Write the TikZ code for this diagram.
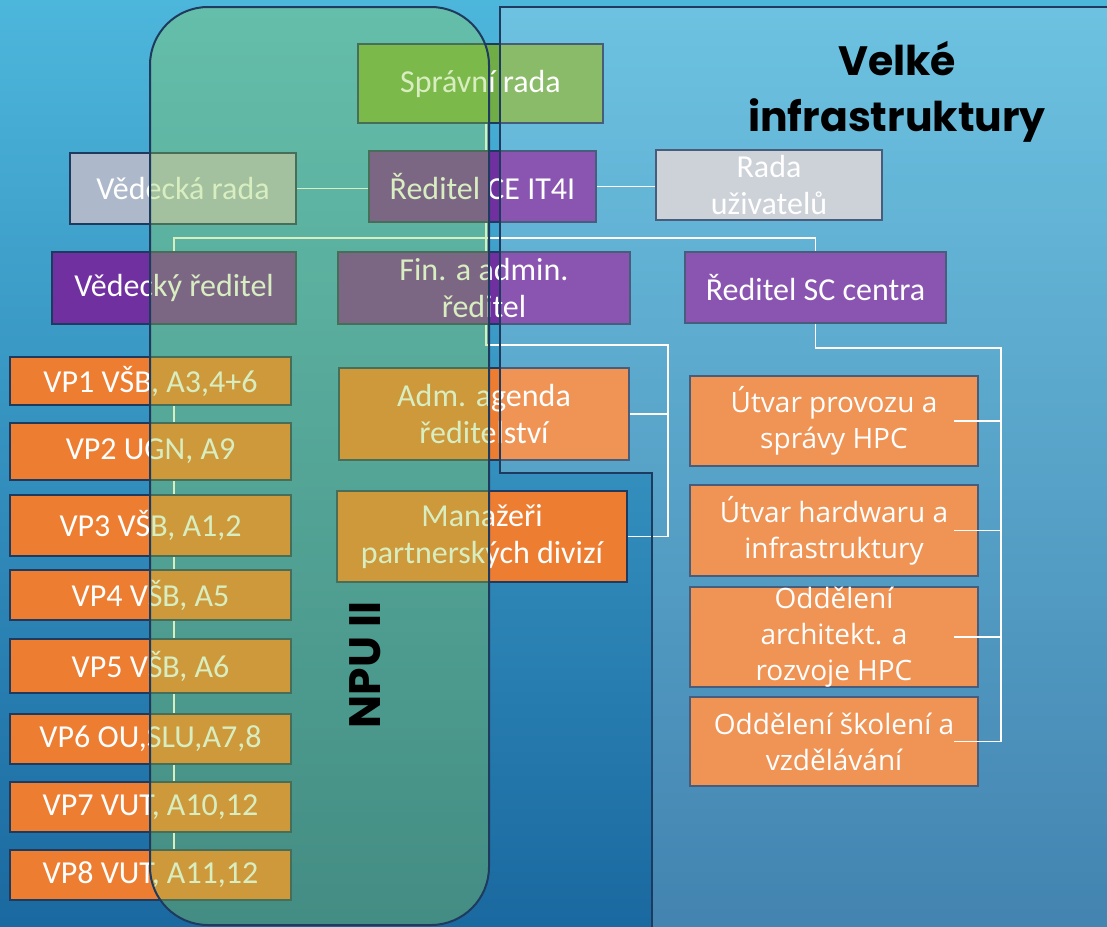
\documentclass[tikz,border=0pt]{standalone}
\usepackage{fontspec}
\setmainfont{Carlito}
\newfontfamily\osans{Open Sans}
\newfontfamily\gothic{Poppins}
\usetikzlibrary{positioning}

\definecolor{orng}{HTML}{ED7D31}
\definecolor{purp}{HTML}{7030A0}
\definecolor{grn}{HTML}{70AD47}
\definecolor{navy}{HTML}{1F3A5F}
\definecolor{gry}{HTML}{ADB9CA}
\definecolor{lgry}{HTML}{C3C8D0}
\definecolor{bgtop}{HTML}{4DB6DB}
\definecolor{bgbot}{HTML}{1A69A0}
\definecolor{npu}{HTML}{92D050}

\pgfdeclarelayer{back}
\pgfdeclarelayer{lines}
\pgfdeclarelayer{front}
\pgfsetlayers{back,lines,main,front}

\begin{document}
\begin{tikzpicture}[x=1pt,y=-1pt,
    box/.style={rectangle,draw=navy,line width=1.5pt,text=white,align=center,inner sep=0pt,font=\fontsize{32}{37}\selectfont},
    obox/.style={box,fill=orng},
    pbox/.style={box,fill=purp,minimum height=72pt},
    vpbox/.style={obox,minimum width=281pt},
    ubox/.style={obox,minimum width=288pt,font=\osans\fontsize{28}{36}\selectfont},
    line/.style={draw=white,line width=1.6pt},
    title/.style={font=\gothic\bfseries\fontsize{41}{56}\selectfont,text=black,align=center}]
    \useasboundingbox (0,0) rectangle (1107,926);
    \begin{pgfonlayer}{back}
      \shade[top color=bgtop,bottom color=bgbot] (0,0) rectangle (1107,926);
    \end{pgfonlayer}

    \node[box,fill=grn,minimum width=245pt,minimum height=79pt] (sr) at (480.5,83.5) {Správní rada};
    \node[box,fill=gry,minimum width=226pt,minimum height=71pt] (vd) at (183,188.5) {Vědecká rada};
    \node[pbox,minimum width=227pt,minimum height=71pt] (rc) at (482.5,186.5) {Ředitel CE IT4I};
    \node[box,fill=lgry,minimum width=226pt,minimum height=70pt] (ru) at (769,185) {Rada\\uživatelů};
    \node[pbox,minimum width=244pt] (vr) at (174,288) {Vědecký ředitel};
    \node[pbox,minimum width=292pt] (fa) at (484,288) {Fin. a admin.\\ředitel};
    \node[pbox,minimum width=261pt,minimum height=71pt] (sc) at (815.5,287.5) {Ředitel SC centra};
    \node[obox,minimum width=290pt,minimum height=92pt] (aa) at (484,414) {Adm. agenda\\ředitelství};
    \node[obox,minimum width=290pt,minimum height=91pt] (mp) at (482,536.5) {Manažeři\\partnerských divizí};

    \node[vpbox,minimum height=48pt] (vp1) at (150.5,381) {VP1 VŠB, A3,4+6};
    \node[vpbox,minimum height=57pt] (vp2) at (150.5,451.5) {VP2 UGN, A9};
    \node[vpbox,minimum height=61pt] (vp3) at (150.5,525.5) {VP3 VŠB, A1,2};
    \node[vpbox,minimum height=50pt] (vp4) at (150.5,595) {VP4 VŠB, A5};
    \node[vpbox,minimum height=54pt] (vp5) at (150.5,666) {VP5 VŠB, A6};
    \node[vpbox,minimum height=50pt] (vp6) at (150.5,739) {VP6 OU,SLU,A7,8};
    \node[vpbox,minimum height=50pt] (vp7) at (150.5,807) {VP7 VUT, A10,12};
    \node[vpbox,minimum height=50pt] (vp8) at (150.5,875) {VP8 VUT, A11,12};

    \node[ubox,minimum height=90pt] (u1) at (834,421) {Útvar provozu a\\správy HPC};
    \node[ubox,minimum height=91pt] (u2) at (834,530.5) {Útvar hardwaru a\\infrastruktury};
    \node[ubox,minimum height=90pt] (u3) at (834,637) {Oddělení\\architekt. a\\rozvoje HPC};
    \node[ubox,minimum height=89pt] (u4) at (834,741.5) {Oddělení školení a\\vzdělávání};

    \coordinate (j1) at (486,238);
    \coordinate (j2) at (668,345);
    \coordinate (j3) at (1001,348);

    \begin{pgfonlayer}{lines}
      \path[line] (sr.south -| j1) -- (rc.north -| j1);
      \path[line] (rc.south -| j1) -- (j2 -| j1) -- (j2) -- (j2 |- mp.east) -- (mp.east);
      \path[line] (aa.east) -- (aa.east -| j2);
      \path[line] (vr.north) -- (vr.north |- j1) -- (sc.north |- j1) -- (sc.north);
      \path[line] (vd.east) -- (vd.east -| rc.west);
      \path[line] (rc.east) -- (rc.east -| ru.west);
      \path[line] (vr.south -| vp1.north) -- (vp1.north);
      \path[line] (vp1.south -| vr.south) -- (vp8.north -| vr.south);
      \path[line] (sc.south) -- (sc.south |- j3) -- (j3) -- (j3 |- u4.east);
    \end{pgfonlayer}

    \begin{pgfonlayer}{front}
      \path[line] ([xshift=-25pt]u1.east) -- (u1.east -| j3);
      \path[line] ([xshift=-25pt]u2.east) -- (u2.east -| j3);
      \path[line] ([xshift=-25pt]u3.east) -- (u3.east -| j3);
      \path[line] ([xshift=-25pt]u4.east) -- (u4.east -| j3);
      \draw[navy,line width=2pt,fill=white,fill opacity=0.18]
        (500,7) -- (1112,7) -- (1112,932) -- (652,932) -- (652,473) -- (500,473) -- cycle;
      \draw[navy,line width=2pt,fill=npu,fill opacity=0.35,rounded corners=58pt]
        (150,7) rectangle (489,925);
      \node[title] (vi) at (897,92) {Velké\\infrastruktury};
      \node[title,font=\gothic\bfseries\fontsize{44}{56}\selectfont,rotate=90] (np) at (365,665) {NPU II};
    \end{pgfonlayer}
  \end{tikzpicture}
\end{document}
